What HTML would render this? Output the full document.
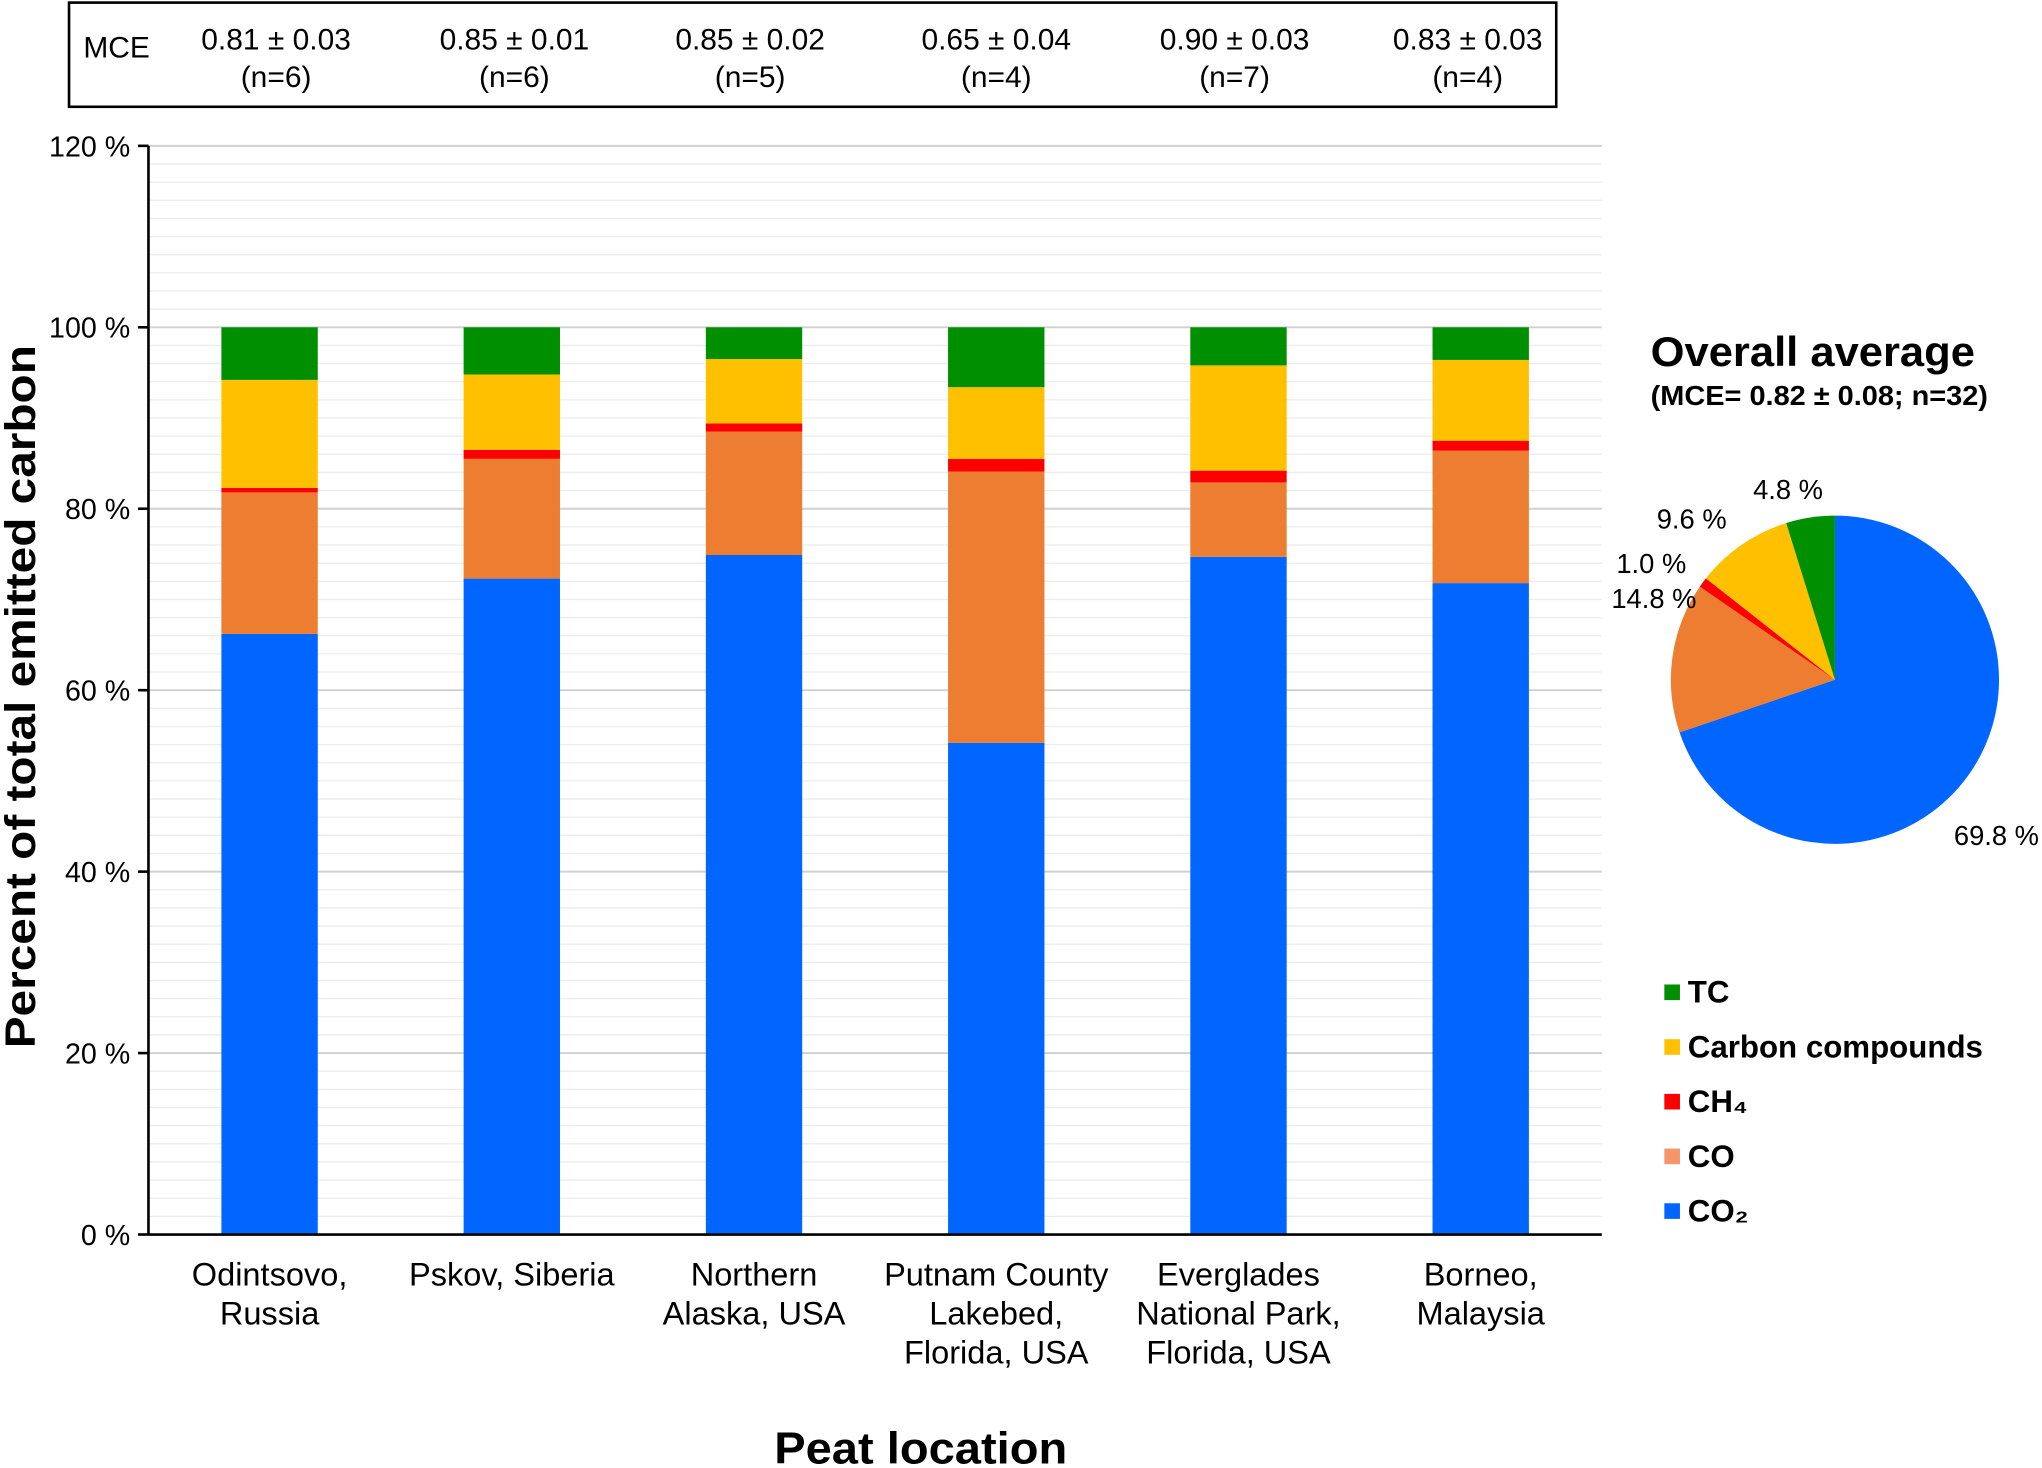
<!DOCTYPE html>
<html><head><meta charset="utf-8"><style>
html,body{margin:0;padding:0;background:#fff;}
svg{display:block;font-family:"Liberation Sans",Arial,sans-serif;}
</style></head><body>
<svg id="chart" width="2042" height="1468" viewBox="0 0 1568 1127.3" preserveAspectRatio="none" xmlns="http://www.w3.org/2000/svg">
<g id="grid"></g>
<g id="bars"></g>
<g id="axes"></g>
<g id="mce"></g>
<g id="pie"></g>
<g id="legend"></g>
<text transform="translate(27,535) rotate(-90)" text-anchor="middle" font-size="33" font-weight="bold" textLength="540" lengthAdjust="spacingAndGlyphs">Percent of total emitted carbon</text>
<text x="707" y="1124" text-anchor="middle" font-size="34" font-weight="bold" textLength="225" lengthAdjust="spacingAndGlyphs">Peat location</text>
<text x="1392" y="281" text-anchor="middle" font-size="32" font-weight="bold" textLength="249" lengthAdjust="spacingAndGlyphs">Overall average</text>
<text x="1397" y="311" text-anchor="middle" font-size="21" font-weight="bold" textLength="259" lengthAdjust="spacingAndGlyphs">(MCE= 0.82 ± 0.08; n=32)</text>
</svg>
<script>
const categories=[["Odintsovo,","Russia"],["Pskov, Siberia"],["Northern","Alaska, USA"],["Putnam County","Lakebed,","Florida, USA"],["Everglades","National Park,","Florida, USA"],["Borneo,","Malaysia"]];
const co2=[66.2,72.3,74.9,54.2,74.7,71.8];
const co=[15.6,13.2,13.6,29.9,8.2,14.6];
const ch4=[0.5,1.0,0.9,1.4,1.3,1.1];
const cc=[11.9,8.3,7.1,7.9,11.6,8.9];
const tc=[5.8,5.2,3.5,6.6,4.2,3.6];
const mceVals=["0.81 ± 0.03","0.85 ± 0.01","0.85 ± 0.02","0.65 ± 0.04","0.90 ± 0.03","0.83 ± 0.03"];
const mceN=["(n=6)","(n=6)","(n=5)","(n=4)","(n=7)","(n=4)"];
const yTicks=[0,20,40,60,80,100,120];
const pieLabels=["CO₂","CO","CH₄","Carbon compounds","TC"];
const pieValues=[69.8,14.8,1.0,9.6,4.8];
const NS="http://www.w3.org/2000/svg";
const colors=["#0066ff","#ed7d31","#ff0000","#ffc000","#008f00"];
function mk(tag,attrs,parent,txt){const e=document.createElementNS(NS,tag);for(const k in attrs)e.setAttribute(k,attrs[k]);if(txt!==undefined)e.textContent=txt;parent.appendChild(e);return e;}
const x0=114,x1=1230,yb=948,yt=112;
function y(v){return yb-(v/120)*(yb-yt);}
function xc(i){return 207+i*186;}
const grid=document.getElementById('grid');
for(let v=2;v<=120;v+=2){const l=mk('line',{x1:x0,x2:x1,y1:y(v),y2:y(v),stroke:v%20===0?'#d0d0d0':'#ececec','stroke-width':v%20===0?1.5:1},grid);

}
const bars=document.getElementById('bars');
const series=[co2,co,ch4,cc,tc];const sn=["co2","co","ch4","carbon-compounds","tc"];
categories.forEach((c,i)=>{let acc=0;series.forEach((s,k)=>{const r=mk('rect',{x:xc(i)-37,width:74,y:y(acc+s[i]),height:y(acc)-y(acc+s[i]),fill:colors[k]},bars);

acc+=s[i];});
c.forEach((ln,j)=>{const t=mk('text',{x:xc(i),y:987+j*30,'text-anchor':'middle','font-size':25},bars,ln);

});});
const axes=document.getElementById('axes');
mk('line',{x1:x0,x2:x0,y1:yt,y2:yb,stroke:'#000','stroke-width':2},axes);
mk('line',{x1:x0,x2:x1,y1:yb,y2:yb,stroke:'#000','stroke-width':2},axes);
yTicks.forEach(v=>{mk('line',{x1:x0-8,x2:x0,y1:y(v),y2:y(v),stroke:'#000','stroke-width':2},axes);
const t=mk('text',{x:100,y:y(v)+8,'text-anchor':'end','font-size':22},axes,v+' %');

});
const m=document.getElementById('mce');
mk('rect',{x:53,y:2,width:1142,height:80,fill:'none',stroke:'#000','stroke-width':2},m);
mk('text',{x:64,y:44,'font-size':23},m,'MCE');
mceVals.forEach((v,i)=>{const cx=[212,395,576,765,948,1127][i];
const t=mk('text',{x:cx,y:38,'text-anchor':'middle','font-size':23},m,v);


mk('text',{x:cx,y:67,'text-anchor':'middle','font-size':23},m,mceN[i]);});
const pie=document.getElementById('pie');
const pcx=1409,pcy=522,pr=126;let a=0;const tot=pieValues.reduce((p,q)=>p+q,0);
pieValues.forEach((v,k)=>{const a0=a/tot*2*Math.PI,a1=(a+v)/tot*2*Math.PI;a+=v;
const p0=[pcx+pr*Math.sin(a0),pcy-pr*Math.cos(a0)],p1=[pcx+pr*Math.sin(a1),pcy-pr*Math.cos(a1)];
const s=mk('path',{d:`M${pcx},${pcy}L${p0[0]},${p0[1]}A${pr},${pr} 0 ${(a1-a0)>Math.PI?1:0} 1 ${p1[0]},${p1[1]}Z`,fill:colors[k]},pie);

});
const lblPos=[[1533,649],[1270,467],[1268,440],[1299,406],[1373,383]];
pieValues.forEach((v,k)=>{const t=mk('text',{x:lblPos[k][0],y:lblPos[k][1],'text-anchor':'middle','font-size':21},pie,v.toFixed(1)+' %');

});
const lg=document.getElementById('legend');
const order=[4,3,2,1,0];const lc=["#008f00","#ffc000","#ff0000","#f4956a","#0066ff"];
order.forEach((k,j)=>{const yy=762+j*42;mk('rect',{x:1278,y:yy-6,width:12,height:12,fill:lc[j]},lg);
const t=mk('text',{x:1296,y:yy+8,'font-size':24,'font-weight':'bold'},lg,pieLabels[k]);

});
</script>
</body></html>
